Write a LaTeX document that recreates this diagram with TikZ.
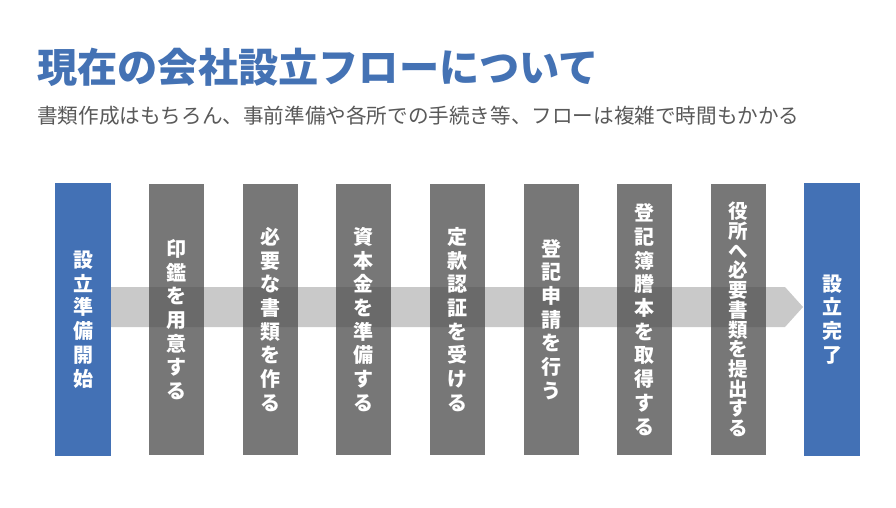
\documentclass[tikz,border=0pt]{standalone}
\usepackage{fontspec}
\setmainfont{Noto Sans CJK JP}
\definecolor{titleblue}{HTML}{4472B4}
\definecolor{boxblue}{HTML}{4371B5}
\definecolor{boxgray}{HTML}{777777}
\definecolor{subgray}{HTML}{595959}
\definecolor{bandc}{HTML}{4D4D4D}
\begin{document}
\begin{tikzpicture}[x=1pt,y=-1pt,
  boxbase/.style={draw=none,minimum width=55pt,inner sep=0pt},
  bluebox/.style={boxbase,fill=boxblue,minimum width=56pt,minimum height=273pt},
  graybox/.style={boxbase,fill=boxgray,minimum height=271pt},
  vtext/.style={text=white,align=center,inner sep=0pt,font=\bfseries\fontsize{20}{23.7}\selectfont},
  vtextdense/.style={vtext,font=\bfseries\fontsize{19.5}{19.7}\selectfont}
]
\fill[white] (0,0) rectangle (896,508);
\useasboundingbox (0,0) rectangle (896,508);
% title
\node[anchor=west,inner sep=0pt,text=titleblue,font=\bfseries\fontsize{40.2}{40}\selectfont] (title) at (37,67) {現在の会社設立フローについて};
\node[anchor=west,inner sep=0pt,text=subgray,font=\fontsize{20.6}{20.6}\selectfont] (sub) at (37,116) {書類作成はもちろん、事前準備や各所での手続き等、フローは複雑で時間もかかる};
% boxes
\node[bluebox] (b1) at (83,319.5) {};
\node[graybox] (b2) at (176.6,319.5) {};
\node[graybox] (b3) at (270.2,319.5) {};
\node[graybox] (b4) at (363.8,319.5) {};
\node[graybox] (b5) at (457.4,319.5) {};
\node[graybox] (b6) at (551,319.5) {};
\node[graybox] (b7) at (644.6,319.5) {};
\node[graybox] (b8) at (738.2,319.5) {};
\node[bluebox] (b9) at (832,319.5) {};
% band arrow
\coordinate (bs) at (111,287);
\fill[bandc,opacity=0.3] (bs) -- (785,287) -- (803,307) -- (785,327) -- (111,327) -- cycle;
% labels
\node[vtext] (t1) at (b1.center) {設\\立\\準\\備\\開\\始};
\node[vtext] (t2) at (b2.center) {印\\鑑\\を\\用\\意\\す\\る};
\node[vtext] (t3) at (b3.center) {必\\要\\な\\書\\類\\を\\作\\る};
\node[vtext] (t4) at (b4.center) {資\\本\\金\\を\\準\\備\\す\\る};
\node[vtext] (t5) at (b5.center) {定\\款\\認\\証\\を\\受\\け\\る};
\node[vtext] (t6) at (b6.center) {登\\記\\申\\請\\を\\行\\う};
\node[vtext] (t7) at (b7.center) {登\\記\\簿\\謄\\本\\を\\取\\得\\す\\る};
\node[vtextdense] (t8) at (b8.center) {役\\所\\へ\\必\\要\\書\\類\\を\\提\\出\\す\\る};
\node[vtext] (t9) at (b9.center) {設\\立\\完\\了};
\end{tikzpicture}
\end{document}
